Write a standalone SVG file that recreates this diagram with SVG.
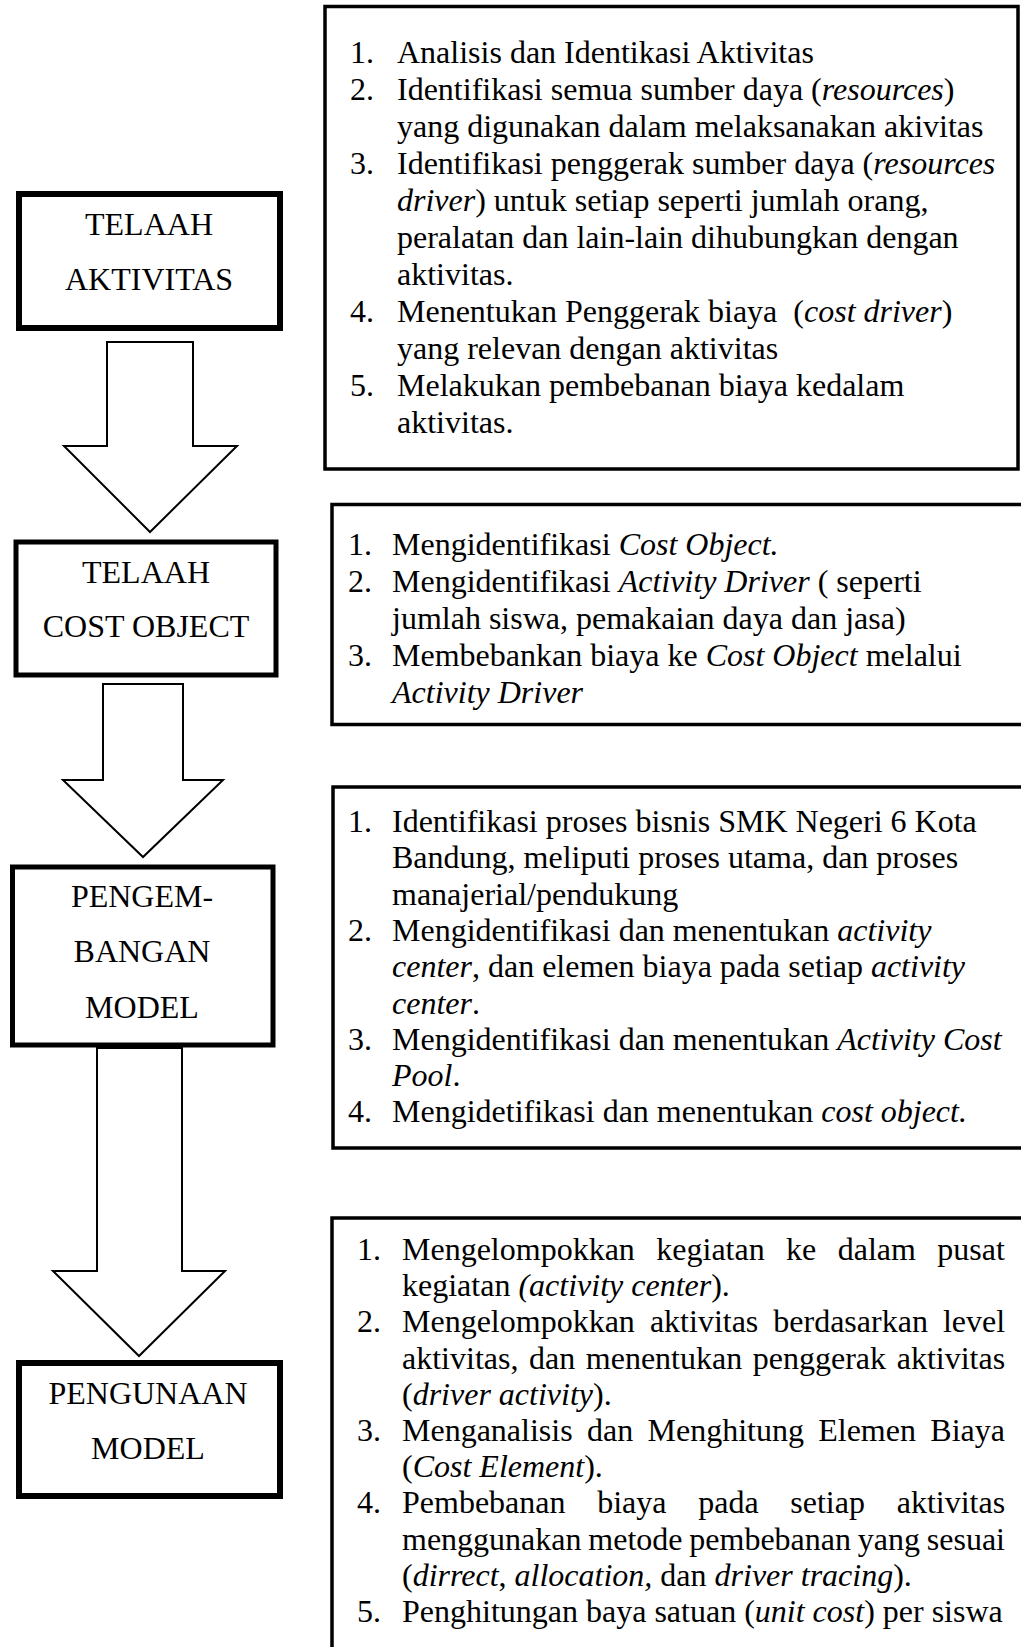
<svg xmlns="http://www.w3.org/2000/svg" width="1021" height="1647" viewBox="0 0 1021 1647">
<style>
.t{font-family:"Liberation Serif","Times New Roman",serif;font-size:32px;fill:#000}
.c{text-anchor:middle}
.i{font-style:italic}
.box{fill:#fff;stroke:#000}
.rb{fill:none;stroke:#000;stroke-width:3.5}
.arr{fill:#fff;stroke:#000;stroke-width:2;stroke-linejoin:miter}
</style>
<rect x="0" y="0" width="1021" height="1647" fill="#fff"/>
<g id="connectors">
<polygon class="arr" points="107,342 193,342 193,446 237,446 150,532 64,446 107,446"/>
<polygon class="arr" points="103,684 183,684 183,780 223,780 143,857 63,780 103,780"/>
<polygon class="arr" points="97,1048 182,1048 182,1271 225,1271 139,1356 53,1271 97,1271"/>
</g>
<g id="telaah-aktivitas">
<rect class="box" x="19" y="194" width="261" height="134" stroke-width="6"/>
<text class="t c" x="149" y="235">TELAAH</text>
<text class="t c" x="149" y="290">AKTIVITAS</text>
</g>
<g id="telaah-cost-object">
<rect class="box" x="16" y="542" width="260" height="133" stroke-width="5"/>
<text class="t c" x="146" y="583">TELAAH</text>
<text class="t c" x="146" y="637">COST OBJECT</text>
</g>
<g id="pengembangan-model">
<rect class="box" x="12.5" y="867" width="260.5" height="178" stroke-width="5"/>
<text class="t c" x="142" y="907">PENGEM-</text>
<text class="t c" x="142" y="962">BANGAN</text>
<text class="t c" x="142" y="1018">MODEL</text>
</g>
<g id="pengunaan-model">
<rect class="box" x="19" y="1363" width="261" height="133" stroke-width="6"/>
<text class="t c" x="148" y="1404">PENGUNAAN</text>
<text class="t c" x="148" y="1459">MODEL</text>
</g>
<g id="detail-aktivitas">
<rect class="rb" x="325" y="6.5" width="693" height="462.5"/>
<text class="t" x="350" y="63">1.</text><text class="t" x="397" y="63">Analisis dan Identikasi Aktivitas</text>
<text class="t" x="350" y="100">2.</text><text class="t" x="397" y="100">Identifikasi semua sumber daya (<tspan class="i">resources</tspan>)</text>
<text class="t" x="397" y="137">yang digunakan dalam melaksanakan akivitas</text>
<text class="t" x="350" y="174">3.</text><text class="t" x="397" y="174">Identifikasi penggerak sumber daya (<tspan class="i">resources</tspan></text>
<text class="t" x="397" y="211"><tspan class="i">driver</tspan>) untuk setiap seperti jumlah orang,</text>
<text class="t" x="397" y="248">peralatan dan lain-lain dihubungkan dengan</text>
<text class="t" x="397" y="285">aktivitas.</text>
<text class="t" x="350" y="322">4.</text><text class="t" x="397" y="322" xml:space="preserve">Menentukan Penggerak biaya  (<tspan class="i">cost driver</tspan>)</text>
<text class="t" x="397" y="359">yang relevan dengan aktivitas</text>
<text class="t" x="350" y="396">5.</text><text class="t" x="397" y="396">Melakukan pembebanan biaya kedalam</text>
<text class="t" x="397" y="433">aktivitas.</text>
</g>
<g id="detail-cost-object">
<rect class="rb" x="332" y="504.5" width="720" height="220"/>
<text class="t" x="348" y="555">1.</text><text class="t" x="392" y="555">Mengidentifikasi <tspan class="i">Cost Object.</tspan></text>
<text class="t" x="348" y="592">2.</text><text class="t" x="392" y="592">Mengidentifikasi <tspan class="i">Activity Driver</tspan> ( seperti</text>
<text class="t" x="392" y="629">jumlah siswa, pemakaian daya dan jasa)</text>
<text class="t" x="348" y="666">3.</text><text class="t" x="392" y="666">Membebankan biaya ke <tspan class="i">Cost Object</tspan> melalui</text>
<text class="t i" x="392" y="703">Activity Driver</text>
</g>
<g id="detail-pengembangan">
<rect class="rb" x="333" y="787" width="720" height="361"/>
<text class="t" x="348" y="832">1.</text><text class="t" x="392" y="832">Identifikasi proses bisnis SMK Negeri 6 Kota</text>
<text class="t" x="392" y="868.3">Bandung, meliputi proses utama, dan proses</text>
<text class="t" x="392" y="904.6">manajerial/pendukung</text>
<text class="t" x="348" y="940.9">2.</text><text class="t" x="392" y="940.9">Mengidentifikasi dan menentukan <tspan class="i">activity</tspan></text>
<text class="t" x="392" y="977.2"><tspan class="i">center</tspan>, dan elemen biaya pada setiap <tspan class="i">activity</tspan></text>
<text class="t" x="392" y="1013.5"><tspan class="i">center</tspan>.</text>
<text class="t" x="348" y="1049.8">3.</text><text class="t" x="392" y="1049.8">Mengidentifikasi dan menentukan <tspan class="i">Activity Cost</tspan></text>
<text class="t" x="392" y="1086.1"><tspan class="i">Pool</tspan>.</text>
<text class="t" x="348" y="1122.4">4.</text><text class="t" x="392" y="1122.4">Mengidetifikasi dan menentukan <tspan class="i">cost object.</tspan></text>
</g>
<g id="detail-penggunaan">
<rect class="rb" x="332" y="1218" width="720" height="500"/>
<text class="t" x="357" y="1260">1.</text>
<text class="t" y="1260"><tspan x="402">Mengelompokkan</tspan><tspan x="656.3">kegiatan</tspan><tspan x="786.1">ke</tspan><tspan x="837.7">dalam</tspan><tspan x="937.3">pusat</tspan></text>
<text class="t" x="402" y="1296.2">kegiatan <tspan class="i">(activity center</tspan>).</text>
<text class="t" x="357" y="1332.4">2.</text>
<text class="t" y="1332.4"><tspan x="402">Mengelompokkan</tspan><tspan x="649.9">aktivitas</tspan><tspan x="773.3">berdasarkan</tspan><tspan x="942.9">level</tspan></text>
<text class="t" y="1368.6"><tspan x="402">aktivitas,</tspan><tspan x="529">dan</tspan><tspan x="585.8">menentukan</tspan><tspan x="752.8">penggerak</tspan><tspan x="896.7">aktivitas</tspan></text>
<text class="t" x="402" y="1404.8">(<tspan class="i">driver activity</tspan>).</text>
<text class="t" x="357" y="1441">3.</text>
<text class="t" y="1441"><tspan x="402">Menganalisis</tspan><tspan x="587">dan</tspan><tspan x="647.5">Menghitung</tspan><tspan x="818.2">Elemen</tspan><tspan x="930.3">Biaya</tspan></text>
<text class="t" x="402" y="1477.2">(<tspan class="i">Cost Element</tspan>).</text>
<text class="t" x="357" y="1513.4">4.</text>
<text class="t" y="1513.4"><tspan x="402">Pembebanan</tspan><tspan x="597.2">biaya</tspan><tspan x="698.2">pada</tspan><tspan x="790.3">setiap</tspan><tspan x="896.7">aktivitas</tspan></text>
<text class="t" y="1549.6"><tspan x="402">menggunakan</tspan><tspan x="588.3">metode</tspan><tspan x="689.3">pembebanan</tspan><tspan x="857.8">yang</tspan><tspan x="926.8">sesuai</tspan></text>
<text class="t" x="402" y="1585.8">(<tspan class="i">dirrect</tspan>, <tspan class="i">allocation,</tspan> dan <tspan class="i">driver tracing</tspan>).</text>
<text class="t" x="357" y="1622">5.</text>
<text class="t" x="402" y="1622">Penghitungan baya satuan (<tspan class="i">unit cost</tspan>) per siswa</text>
</g>
</svg>
